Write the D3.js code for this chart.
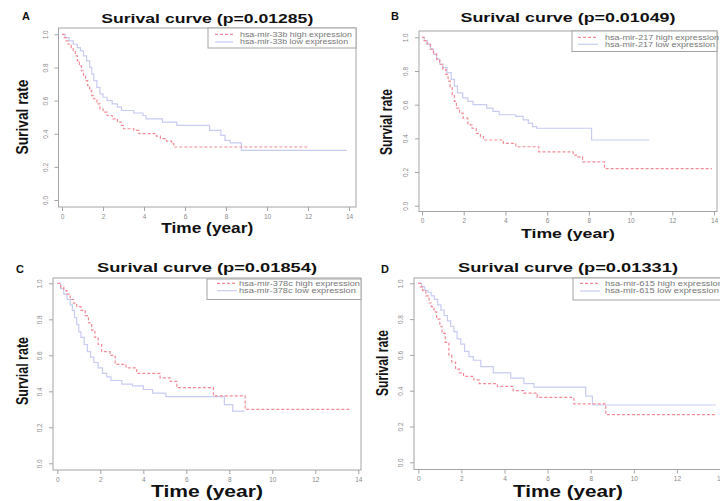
<!DOCTYPE html>
<html>
<head>
<meta charset="utf-8">
<script src="https://cdn.jsdelivr.net/npm/d3@7"></script>
<style>
  body { margin: 0; background: #fff; }
  svg { display: block; font-family: "Liberation Sans", Arial, sans-serif; }
</style>
</head>
<body>
<svg id="chart" width="720" height="501"></svg>
<script>
// ---- data ----
var timeTicks = [0, 2, 4, 6, 8, 10, 12, 14];
var survTicks = [0, 0.2, 0.4, 0.6, 0.8, 1.0];
var panelLetters = ["A", "B", "C", "D"];
var titles = ["Surival curve (p=0.01285)", "Surival curve (p=0.01049)",
              "Surival curve (p=0.01854)", "Surival curve (p=0.01331)"];
var yLabels = ["Surival rate", "Survial rate", "Survial rate", "Surival rate"];
var mirNames = ["hsa-mir-33b", "hsa-mir-217", "hsa-mir-378c", "hsa-mir-615"];

// [time (year), survival] - value holds from that time on
var highA = [[0,1],[0.1,0.98],[0.2,0.96],[0.3,0.94],[0.45,0.92],[0.55,0.9],[0.65,0.87],[0.75,0.84],[0.85,0.81],[0.95,0.78],[1.05,0.75],[1.15,0.72],[1.25,0.69],[1.35,0.66],[1.45,0.63],[1.55,0.61],[1.7,0.58],[1.85,0.55],[2.0,0.53],[2.2,0.51],[2.45,0.49],[2.7,0.47],[2.9,0.45],[3.0,0.43],[3.5,0.42],[3.75,0.40],[4.6,0.385],[4.8,0.37],[5.1,0.355],[5.35,0.34],[5.45,0.32],[12.0,0.32]];
var lowA = [[0,1],[0.15,0.98],[0.35,0.96],[0.55,0.94],[0.75,0.92],[0.9,0.9],[1.05,0.87],[1.2,0.84],[1.35,0.8],[1.45,0.76],[1.55,0.72],[1.7,0.68],[1.85,0.64],[2.0,0.62],[2.2,0.6],[2.45,0.58],[2.7,0.56],[2.9,0.54],[3.5,0.525],[3.95,0.51],[4.1,0.49],[4.9,0.47],[5.6,0.45],[7.2,0.42],[7.75,0.39],[7.95,0.36],[8.2,0.345],[8.75,0.30],[13.9,0.30]];
var highB = [[0,1],[0.1,0.98],[0.25,0.96],[0.4,0.93],[0.55,0.9],[0.7,0.87],[0.85,0.84],[1.0,0.81],[1.15,0.78],[1.25,0.74],[1.35,0.7],[1.45,0.66],[1.55,0.62],[1.65,0.58],[1.8,0.55],[1.97,0.52],[2.2,0.48],[2.4,0.46],[2.6,0.43],[2.8,0.41],[2.95,0.39],[3.9,0.37],[4.5,0.35],[5.6,0.32],[7.25,0.30],[7.45,0.29],[7.7,0.26],[8.75,0.22],[13.9,0.22]];
var lowB = [[0,1],[0.1,0.98],[0.25,0.96],[0.4,0.93],[0.55,0.9],[0.7,0.87],[0.85,0.84],[1.0,0.82],[1.2,0.79],[1.4,0.75],[1.55,0.71],[1.7,0.67],[1.95,0.64],[2.2,0.62],[2.45,0.6],[3.1,0.58],[3.4,0.56],[3.7,0.54],[4.5,0.53],[4.85,0.51],[5.1,0.49],[5.3,0.47],[5.5,0.46],[8.13,0.39],[10.9,0.39]];
var highC = [[0,1],[0.15,0.98],[0.3,0.96],[0.45,0.94],[0.6,0.91],[0.75,0.89],[0.9,0.87],[1.1,0.85],[1.3,0.82],[1.45,0.78],[1.6,0.74],[1.75,0.7],[1.9,0.66],[2.06,0.62],[2.45,0.60],[2.69,0.55],[3.2,0.53],[3.69,0.50],[4.78,0.475],[5.25,0.455],[5.56,0.42],[7.26,0.375],[8.74,0.30],[13.6,0.30]];
var lowC = [[0,1],[0.15,0.97],[0.3,0.94],[0.45,0.91],[0.6,0.88],[0.7,0.85],[0.8,0.81],[0.9,0.77],[1.0,0.73],[1.1,0.70],[1.25,0.66],[1.4,0.62],[1.55,0.59],[1.7,0.56],[1.9,0.53],[2.1,0.50],[2.3,0.48],[2.5,0.46],[3.0,0.44],[3.5,0.43],[4.0,0.41],[4.43,0.39],[5.05,0.37],[7.77,0.326],[8.16,0.29],[8.7,0.29]];
var highD = [[0,1],[0.1,0.98],[0.2,0.96],[0.35,0.93],[0.5,0.89],[0.6,0.87],[0.73,0.84],[0.85,0.8],[1.0,0.76],[1.1,0.72],[1.25,0.67],[1.42,0.60],[1.55,0.56],[1.73,0.52],[1.9,0.50],[2.1,0.48],[2.58,0.46],[2.82,0.44],[3.67,0.424],[4.4,0.40],[4.9,0.387],[5.52,0.363],[7.22,0.326],[8.7,0.266],[13.8,0.266]];
var lowD = [[0,1],[0.15,0.98],[0.3,0.96],[0.45,0.95],[0.6,0.93],[0.75,0.91],[0.9,0.88],[1.05,0.85],[1.2,0.82],[1.35,0.79],[1.5,0.76],[1.65,0.73],[1.8,0.69],[1.97,0.66],[2.15,0.62],[2.35,0.59],[2.55,0.57],[2.9,0.535],[3.48,0.50],[4.29,0.47],[4.9,0.44],[5.37,0.42],[7.77,0.37],[8.08,0.32],[13.8,0.32]];

var highSeries = [highA, highB, highC, highD];
var lowSeries = [lowA, lowB, lowC, lowD];

// ---- layout of the four panels (pixels) ----
var layouts = [
  {box: [58.5, 28, 356, 207], x: [62, 349], y: [200, 34.3], letter: [22, 20], titleY: 23, titleW: 212,
   yLab: [28, 117, 75, 16], xLab: [233, 92, 14], legend: {left: 208, top: 28, bottom: 48, sx: [215, 233], tx: 240, tw: 112, rows: [34.3, 42]}},
  {box: [419, 31, 717, 211.5], x: [422, 714], y: [205.7, 37.3], letter: [391, 20], titleY: 22, titleW: 215,
   yLab: [392, 122, 66, 16], xLab: [237.5, 94, 13.5], legend: {left: 572, top: 31, bottom: 51.5, sx: [578, 598], tx: 605, tw: 114, rows: [37.3, 44.3]}},
  {box: [53, 278, 361, 470], x: [57.3, 358.3], y: [463.3, 283.3], letter: [16, 273], titleY: 272, titleW: 220,
   yLab: [28, 371, 68, 16], xLab: [497, 112, 16], legend: {left: 207, top: 279, bottom: 299.5, sx: [217, 237], tx: 239, tw: 121, rows: [283.3, 290.7]}},
  {box: [414, 278, 722, 469.5], x: [418.3, 720], y: [462.3, 283.3], letter: [381, 273], titleY: 272, titleW: 220,
   yLab: [388, 363, 66, 16], xLab: [497, 110, 16], legend: {left: 573, top: 278, bottom: 300, sx: [580, 600], tx: 605, tw: 118, rows: [283.3, 291]}}
];

var highColor = "#f28b95";
var lowColor = "#c8ccf2";
var frameColor = "#a4a4a4";
var tickTextColor = "#8a8a8a";

var svg = d3.select("#chart");

function drawPanel(i) {
  var L = layouts[i];
  var g = svg.append("g").attr("class", "panel p" + i);
  var box = L.box;

  var x = d3.scaleLinear().domain([0, 14]).range(L.x);
  var y = d3.scaleLinear().domain([0, 1]).range(L.y);

  var clipId = "clip" + i;
  g.append("clipPath").attr("id", clipId)
    .append("rect")
    .attr("x", box[0]).attr("y", box[1])
    .attr("width", box[2] - box[0]).attr("height", box[3] - box[1]);

  // curves
  var line = d3.line()
      .x(function(d) { return x(d[0]); })
      .y(function(d) { return y(d[1]); })
      .curve(d3.curveStepAfter);

  g.append("path")
    .datum(lowSeries[i])
    .attr("clip-path", "url(#" + clipId + ")")
    .attr("fill", "none")
    .attr("stroke", lowColor)
    .attr("stroke-width", 1.2)
    .attr("d", line);

  g.append("path")
    .datum(highSeries[i])
    .attr("clip-path", "url(#" + clipId + ")")
    .attr("fill", "none")
    .attr("stroke", highColor)
    .attr("stroke-width", 1.2)
    .attr("stroke-dasharray", "3,2")
    .attr("d", line);

  // frame
  g.append("rect")
    .attr("x", box[0]).attr("y", box[1])
    .attr("width", box[2] - box[0]).attr("height", box[3] - box[1])
    .attr("fill", "none")
    .attr("stroke", frameColor)
    .attr("stroke-width", 1);

  // bottom axis
  var axB = g.append("g")
      .attr("class", "axis bottom")
      .attr("transform", "translate(0," + box[3] + ")")
      .call(d3.axisBottom(x).tickValues(timeTicks).tickSize(4).tickPadding(3).tickFormat(d3.format("d")));
  axB.select(".domain").remove();
  axB.selectAll("line").attr("stroke", frameColor);
  axB.selectAll("text")
      .attr("fill", tickTextColor)
      .style("font-size", "6.5px")
      .style("font-family", "'Liberation Sans', Arial, sans-serif");

  // left axis (R style: labels parallel to the axis)
  var axL = g.append("g")
      .attr("class", "axis left")
      .attr("transform", "translate(" + box[0] + ",0)")
      .call(d3.axisLeft(y).tickValues(survTicks).tickSize(4).tickFormat(d3.format(".1f")));
  axL.select(".domain").remove();
  axL.selectAll("line").attr("stroke", frameColor);
  axL.selectAll("text")
      .attr("fill", tickTextColor)
      .attr("x", null).attr("dy", null)
      .attr("text-anchor", "middle")
      .attr("transform", "translate(-11,0) rotate(-90)")
      .style("font-size", "6.5px")
      .style("font-family", "'Liberation Sans', Arial, sans-serif");

  // panel letter
  g.append("text")
    .attr("x", L.letter[0]).attr("y", L.letter[1])
    .attr("font-size", 11).attr("font-weight", "bold").attr("fill", "#111")
    .text(panelLetters[i]);

  // title
  var cx = (box[0] + box[2]) / 2;
  g.append("text")
    .attr("x", cx).attr("y", L.titleY)
    .attr("text-anchor", "middle")
    .attr("font-size", 13.5).attr("font-weight", "bold").attr("fill", "#111")
    .attr("textLength", L.titleW).attr("lengthAdjust", "spacingAndGlyphs")
    .text(titles[i]);

  // x label
  g.append("text")
    .attr("x", cx).attr("y", L.xLab[0])
    .attr("text-anchor", "middle")
    .attr("font-size", L.xLab[2]).attr("font-weight", "bold").attr("fill", "#111")
    .attr("textLength", L.xLab[1]).attr("lengthAdjust", "spacingAndGlyphs")
    .text("Time (year)");

  // y label
  g.append("text")
    .attr("transform", "translate(" + L.yLab[0] + "," + L.yLab[1] + ") rotate(-90)")
    .attr("text-anchor", "middle")
    .attr("font-size", L.yLab[3]).attr("font-weight", "bold").attr("fill", "#111")
    .attr("textLength", L.yLab[2]).attr("lengthAdjust", "spacingAndGlyphs")
    .text(yLabels[i]);

  // legend
  var lg = L.legend;
  g.append("rect")
    .attr("x", lg.left).attr("y", lg.top)
    .attr("width", box[2] - lg.left).attr("height", lg.bottom - lg.top)
    .attr("fill", "#fff").attr("stroke", frameColor).attr("stroke-width", 1);

  var entries = [
    {label: mirNames[i] + " high expression", color: highColor, dash: "3,2"},
    {label: mirNames[i] + " low expression", color: lowColor, dash: null}
  ];
  entries.forEach(function(e, k) {
    var ry = lg.rows[k];
    g.append("line")
      .attr("x1", lg.sx[0]).attr("x2", lg.sx[1])
      .attr("y1", ry).attr("y2", ry)
      .attr("stroke", e.color).attr("stroke-width", 1.2)
      .attr("stroke-dasharray", e.dash);
    g.append("text")
      .attr("x", lg.tx).attr("y", ry + 2.4)
      .attr("font-size", 7).attr("fill", "#777")
      .attr("textLength", k === 0 ? lg.tw : lg.tw * 0.965).attr("lengthAdjust", "spacingAndGlyphs")
      .text(e.label);
  });
}

for (var i = 0; i < 4; i++) drawPanel(i);
</script>
</body>
</html>
